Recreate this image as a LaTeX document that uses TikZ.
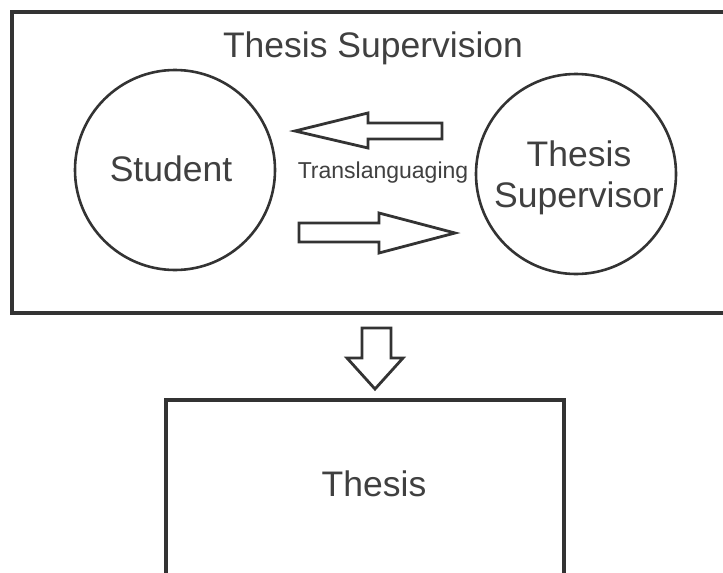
\documentclass[tikz,border=0pt]{standalone}
\usepackage{fontspec}
\setmainfont{Liberation Sans}
\usetikzlibrary{positioning}
\definecolor{inkgray}{HTML}{333333}
\definecolor{textgray}{HTML}{404040}
\tikzset{
  frame/.style={draw=inkgray, line width=3.5pt},
  party/.style={draw=inkgray, line width=2.6pt, circle, minimum size=200pt,
    inner sep=0pt, align=center, text=textgray,
    font=\fontsize{35.5}{41}\selectfont},
  label/.style={text=textgray, font=\fontsize{35.5}{41}\selectfont},
  blockarrow/.style={draw=inkgray, line width=2.8pt, fill=white, line join=miter},
}
\begin{document}
\begin{tikzpicture}[x=1pt,y=-1pt]
  \useasboundingbox (0,0) rectangle (723,573);
  \fill[white] (0,0) rectangle (723,573);
  % top frame, runs off the right side
  \draw[frame] (12,12) rectangle (745,313);
  \node[label] (title) at (373,48) {Thesis Supervision};
  \node[party] (student) at (175,170) {};
  \node[label] (studentname) at (171,169) {Student};
  \node[party] (supervisor) at (576,174) {};
  \node[label, align=center] (supervisorname) at (579,178) {Thesis\\Supervisor};
  \node[text=textgray, font=\fontsize{23}{27}\selectfont] (trans) at (383,173) {Translanguaging};
  % block arrows
  \draw[blockarrow] (295,131) -- (368,113) -- (368,123) -- (442,123)
    -- (442,139) -- (368,139) -- (368,148) -- cycle;
  \draw[blockarrow] (455,233) -- (379,213) -- (379,223) -- (299,223)
    -- (299,242) -- (379,242) -- (379,253) -- cycle;
  \draw[blockarrow] (375,389) -- (347,358) -- (362,358) -- (362,328)
    -- (391,328) -- (391,358) -- (403,358) -- cycle;
  % bottom frame, runs off the bottom
  \draw[frame] (166,400) rectangle (564,600);
  \node[label] (thesis) at (374,484) {Thesis};
\end{tikzpicture}
\end{document}
